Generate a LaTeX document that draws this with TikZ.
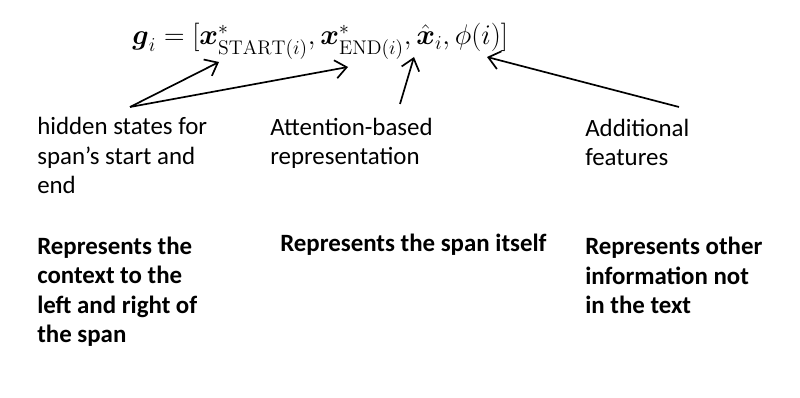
\documentclass[tikz,border=0pt]{standalone}
\usepackage{amsmath}
\usepackage{fontspec}
\newfontfamily\calibri{Carlito}
\usepackage{tikz}
\usetikzlibrary{arrows.meta,positioning}

\begin{document}
\begin{tikzpicture}[x=0.025cm, y=-0.025cm,
    every node/.style={inner sep=0pt, align=left},
    note/.style={anchor=base west, font=\calibri\fontsize{17.7}{21}\selectfont},
    role/.style={note, font=\calibri\bfseries\fontsize{17.7}{21}\selectfont},
    pointer/.style={-{Straight Barb[length=8pt, width=13pt]}, line width=1.2pt}]
    \useasboundingbox (0,0) rectangle (800,398);

    % the span representation
    \node[anchor=base west, scale=0.975, font=\fontsize{20.74}{24}\selectfont] (gi) at (132,45)
        {$\boldsymbol{g}_i = [\boldsymbol{x}^*_{\mathrm{START}(i)}, \boldsymbol{x}^*_{\mathrm{END}(i)}, \hat{\boldsymbol{x}}_i, \phi(i)]$};
    \coordinate (xstart) at (219,62);
    \coordinate (xend) at (348,67);
    \coordinate (xhat) at (414,57);
    \coordinate (phi) at (487,57);

    % what each part is (base = last line)
    \node[note] (hidden) at (37,194) {hidden states for\\span’s start and\\end};
    \node[note] (attn) at (270,165) {Attention-based\\representation};
    \node[note] (extra) at (585,166) {Additional\\features};

    \coordinate (hfoot) at (130,107);
    \draw[pointer] (hfoot) -- (xstart);
    \draw[pointer] (hfoot) -- (xend);
    \coordinate (afoot) at (400,104);
    \draw[pointer] (afoot) -- (xhat);
    \coordinate (efoot) at (679,107);
    \draw[pointer] (efoot) -- (phi);

    % what each part stands for
    \node[role] (ctx) at (37,343) {Represents the\\context to the\\left and right of\\the span};
    \node[role] (self) at (280,252) {Represents the span itself};
    \node[role] (other) at (585,314) {Represents other\\information not\\in the text};
\end{tikzpicture}
\end{document}
